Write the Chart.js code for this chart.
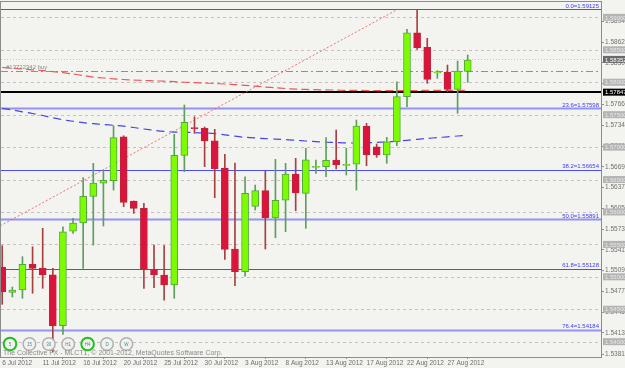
<!DOCTYPE html>
<html>
<head>
<meta charset="utf-8">
<script src="https://cdn.jsdelivr.net/npm/chart.js@4.4.1/dist/chart.umd.min.js"></script>
<style>
  html, body { margin: 0; padding: 0; background: #f3f3ef; }
  #wrap { width: 625px; height: 368px; }
</style>
</head>
<body>
<div id="wrap"><canvas id="chart" width="625" height="368"></canvas></div>
<script>
// GBPUSD-style daily bars, 6 Jul - 29 Aug 2012 (Sunday bars included)
const dates = ['6 Jul 2012', '8 Jul 2012', '9 Jul 2012', '10 Jul 2012', '11 Jul 2012', '12 Jul 2012', '13 Jul 2012', '15 Jul 2012',
  '16 Jul 2012', '17 Jul 2012', '18 Jul 2012', '19 Jul 2012', '20 Jul 2012', '22 Jul 2012', '23 Jul 2012', '24 Jul 2012',
  '25 Jul 2012', '26 Jul 2012', '27 Jul 2012', '29 Jul 2012', '30 Jul 2012', '31 Jul 2012', '1 Aug 2012', '2 Aug 2012',
  '3 Aug 2012', '5 Aug 2012', '6 Aug 2012', '7 Aug 2012', '8 Aug 2012', '9 Aug 2012', '10 Aug 2012', '12 Aug 2012',
  '13 Aug 2012', '14 Aug 2012', '15 Aug 2012', '16 Aug 2012', '17 Aug 2012', '19 Aug 2012', '20 Aug 2012', '21 Aug 2012',
  '22 Aug 2012', '23 Aug 2012', '24 Aug 2012', '26 Aug 2012', '27 Aug 2012', '28 Aug 2012', '29 Aug 2012'];

const opens = [1.55147, 1.54761, 1.54797, 1.55193, 1.55136, 1.55032, 1.54246, 1.55702, 1.55830, 1.56241, 1.56442, 1.56482,
  1.57160, 1.56169, 1.56056, 1.55116, 1.55028, 1.54874, 1.56873, 1.57290, 1.57290, 1.57098, 1.56673, 1.55429,
  1.55079, 1.56087, 1.56328, 1.55907, 1.56180, 1.56585, 1.56287, 1.56688, 1.56698, 1.56801, 1.56719, 1.56735,
  1.57325, 1.57006, 1.56878, 1.57083, 1.57777, 1.58763, 1.58538, 1.58142, 1.58153, 1.57891, 1.58168];
const highs = [1.55480, 1.54843, 1.55310, 1.55464, 1.55748, 1.55131, 1.55772, 1.55902, 1.56528, 1.56750, 1.56647, 1.57330,
  1.57175, 1.56169, 1.56133, 1.55490, 1.55480, 1.57197, 1.57649, 1.57468, 1.57310, 1.57274, 1.56889, 1.56755,
  1.56543, 1.56415, 1.56631, 1.56812, 1.56750, 1.56827, 1.56981, 1.56801, 1.57145, 1.57263, 1.56981, 1.57418,
  1.57367, 1.57048, 1.57151, 1.58008, 1.58816, 1.59125, 1.58677, 1.58178, 1.58265, 1.58327, 1.58420];
const lows = [1.54576, 1.54689, 1.54669, 1.54746, 1.54823, 1.53841, 1.54114, 1.55671, 1.55131, 1.55490, 1.55783, 1.56338,
  1.56081, 1.55979, 1.54823, 1.54832, 1.54642, 1.54669, 1.56620, 1.57212, 1.56698, 1.56220, 1.55270, 1.54863,
  1.55012, 1.56030, 1.55429, 1.55603, 1.55695, 1.56019, 1.55748, 1.56596, 1.56543, 1.56662, 1.56570, 1.56338,
  1.56713, 1.56842, 1.56750, 1.57021, 1.57622, 1.58507, 1.57983, 1.58060, 1.57854, 1.57521, 1.57999];
const closes = [1.54770, 1.54797, 1.55193, 1.55131, 1.55028, 1.54246, 1.55695, 1.55830, 1.56241, 1.56446, 1.56488, 1.57145,
  1.56149, 1.56056, 1.55116, 1.55028, 1.54874, 1.56873, 1.57382, 1.57285, 1.57094, 1.56667, 1.55424, 1.55079,
  1.56287, 1.56328, 1.55907, 1.56180, 1.56585, 1.56292, 1.56805, 1.56698, 1.56796, 1.56724, 1.56728, 1.57325,
  1.56878, 1.56878, 1.57083, 1.57777, 1.58763, 1.58532, 1.58045, 1.58162, 1.57891, 1.58173, 1.58340];

// moving averages (red = slow, blue = fast)
const maSlow = [1.58227, 1.58215, 1.58204, 1.58191, 1.58179, 1.58165, 1.58147, 1.58127, 1.58104, 1.58080, 1.58065, 1.58053,
  1.58042, 1.58034, 1.58028, 1.58022, 1.58016, 1.58008, 1.58000, 1.57994, 1.57988, 1.57980, 1.57973, 1.57963,
  1.57952, 1.57939, 1.57926, 1.57914, 1.57903, 1.57895, 1.57889, 1.57885, 1.57882, 1.57878, 1.57875, 1.57874,
  1.57872, 1.57871, 1.57871, 1.57871, 1.57871, 1.57872, 1.57874, 1.57874, 1.57875, 1.57875, 1.57877];
const maFast = [1.57598, 1.57572, 1.57544, 1.57518, 1.57487, 1.57451, 1.57421, 1.57399, 1.57377, 1.57362, 1.57348, 1.57336,
  1.57322, 1.57302, 1.57279, 1.57259, 1.57243, 1.57232, 1.57228, 1.57225, 1.57217, 1.57208, 1.57189, 1.57168,
  1.57151, 1.57141, 1.57131, 1.57123, 1.57117, 1.57106, 1.57094, 1.57084, 1.57075, 1.57069, 1.57064, 1.57063,
  1.57066, 1.57072, 1.57080, 1.57091, 1.57104, 1.57120, 1.57134, 1.57146, 1.57158, 1.57171, 1.57183];

const priceTicks = [1.53810, 1.54135, 1.54455, 1.54775, 1.55095, 1.55415, 1.55735, 1.56055, 1.56375, 1.56695,
  1.57015, 1.57340, 1.57660, 1.57980, 1.58300, 1.58620, 1.58940];
const roundLevels = [1.540, 1.545, 1.550, 1.555, 1.560, 1.565, 1.570, 1.575, 1.580, 1.585, 1.590];

const fibLevels = ['0.0', '23.6', '38.2', '50.0', '61.8', '76.4'];
const fibPrices = [1.59125, 1.57598, 1.56654, 1.55891, 1.55128, 1.54184];
const fibAnchorBars = [-37, 39.1];
const fibAnchorPrices = [1.52659, 1.59125];

const bidPrice = 1.58352;
const orderPrice = 1.58173;
const orderLabel = '#13722342 buy';
const linePrice = 1.57847;

const periods = ['5', '15', '30', 'H1', 'H4', 'D', 'W'];
const activePeriods = ['5', 'H4'];

const FONT = "'Liberation Sans', Arial, sans-serif";
const bull = closes.map((c, i) => c >= opens[i]);

const mt4Overlay = {
  id: 'mt4Overlay',
  beforeDraw(chart) {
    const ctx = chart.ctx;
    ctx.save();
    ctx.fillStyle = '#f3f3ef';
    ctx.fillRect(0, 0, chart.width, chart.height);
    ctx.restore();
  },
  beforeDatasetsDraw(chart) {
    const { ctx, chartArea: a, scales: { y } } = chart;
    ctx.save();
    ctx.beginPath();
    ctx.rect(a.left, a.top, a.right - a.left, a.bottom - a.top);
    ctx.clip();

    // round price levels
    ctx.setLineDash([3, 3]);
    ctx.strokeStyle = 'rgba(190,165,170,0.7)';
    ctx.lineWidth = 1;
    roundLevels.forEach(p => {
      const py = Math.round(y.getPixelForValue(p)) + 0.5;
      ctx.beginPath(); ctx.moveTo(a.left, py); ctx.lineTo(a.right, py); ctx.stroke();
    });

    // fibo levels
    ctx.setLineDash([]);
    fibPrices.forEach((p, i) => {
      const py = Math.round(y.getPixelForValue(p)) + 0.5;
      const thick = i === 1 || i === 3 || i === 5;
      ctx.strokeStyle = thick ? '#9494f4' : '#4a4aff';
      ctx.lineWidth = thick ? 2 : 1;
      ctx.beginPath(); ctx.moveTo(a.left, py); ctx.lineTo(a.right, py); ctx.stroke();
    });

    // bid (yellow dotted)
    let py = Math.round(y.getPixelForValue(bidPrice)) + 0.5;
    ctx.strokeStyle = '#d4d45a';
    ctx.lineWidth = 1;
    ctx.setLineDash([1, 2]);
    ctx.beginPath(); ctx.moveTo(a.left, py); ctx.lineTo(a.right, py); ctx.stroke();

    // open order (green dash-dot)
    py = Math.round(y.getPixelForValue(orderPrice)) + 0.5;
    ctx.strokeStyle = '#4cbf4c';
    ctx.setLineDash([7, 3, 2, 3]);
    ctx.beginPath(); ctx.moveTo(a.left, py); ctx.lineTo(a.right, py); ctx.stroke();

    // black horizontal line
    py = Math.round(y.getPixelForValue(linePrice));
    ctx.strokeStyle = '#000';
    ctx.lineWidth = 2;
    ctx.setLineDash([]);
    ctx.beginPath(); ctx.moveTo(a.left, py); ctx.lineTo(a.right, py); ctx.stroke();
    ctx.restore();
  },
  afterDraw(chart) {
    const { ctx, chartArea: a, scales: { y } } = chart;
    ctx.save();

    // fibo labels
    ctx.font = '6px ' + FONT;
    ctx.fillStyle = '#3c3cff';
    ctx.textAlign = 'right';
    ctx.textBaseline = 'alphabetic';
    fibPrices.forEach((p, i) => {
      const py = y.getPixelForValue(p);
      ctx.fillText(fibLevels[i] + '=' + p.toFixed(5), a.right - 2, py - 1.5);
    });

    // order label
    ctx.fillStyle = '#8a8a8a';
    ctx.textAlign = 'left';
    ctx.fillText(orderLabel, a.left + 5, y.getPixelForValue(orderPrice) - 2);

    // price boxes on the axis
    const box = (p, bg, fg) => {
      const py = y.getPixelForValue(p);
      ctx.fillStyle = bg;
      ctx.fillRect(a.right + 2, py - 3.5, chart.width - a.right - 2, 7);
      ctx.fillStyle = fg;
      ctx.textBaseline = 'middle';
      ctx.fillText(p.toFixed(5), a.right + 4, py + 0.5);
    };
    roundLevels.forEach(p => box(p, '#b4b4b4', '#e8e8e8'));
    box(bidPrice, '#6a6a6a', '#ffffff');
    box(linePrice, '#000000', '#ffffff');

    // frame
    ctx.strokeStyle = '#8c8c8c';
    ctx.lineWidth = 1;
    ctx.strokeRect(a.left - 0.5, a.top - 0.5, a.right - a.left + 1, a.bottom - a.top + 1);

    // period buttons
    periods.forEach((p, i) => {
      const cx = 10 + i * 19.4, cy = 344;
      const on = activePeriods.includes(p);
      ctx.beginPath();
      ctx.arc(cx, cy, 6.3, 0, Math.PI * 2);
      ctx.fillStyle = '#f1f1ed';
      ctx.fill();
      ctx.lineWidth = on ? 2 : 1.5;
      ctx.strokeStyle = on ? '#22c022' : '#b0b0b0';
      ctx.stroke();
      ctx.fillStyle = '#4a8a9a';
      ctx.font = '4.5px ' + FONT;
      ctx.textAlign = 'center';
      ctx.textBaseline = 'middle';
      ctx.fillText(p, cx, cy + 0.5);
    });

    ctx.font = '7px ' + FONT;
    ctx.fillStyle = '#8a8a8a';
    ctx.textAlign = 'left';
    ctx.textBaseline = 'alphabetic';
    ctx.fillText('The Collective FX - MLCT1, \u00a9 2001-2012, MetaQuotes Software Corp.', 3, 355);
    ctx.restore();
  }
};

new Chart(document.getElementById('chart'), {
  type: 'bar',
  data: {
    datasets: [
      {
        label: 'body',
        data: opens.map((o, i) => ({ x: i, y: [o, closes[i]] })),
        backgroundColor: bull.map(b => b ? '#7cfc00' : '#dc143c'),
        borderColor: bull.map(b => b ? '#54a83a' : '#b8283c'),
        borderWidth: 1,
        borderSkipped: false,
        barThickness: 7,
        minBarLength: 1,
        grouped: false,
        order: 0
      },
      {
        label: 'wick',
        data: lows.map((l, i) => ({ x: i, y: [l, highs[i]] })),
        backgroundColor: bull.map(b => b ? '#5e9e5e' : '#a84040'),
        borderWidth: 0,
        barThickness: 1,
        grouped: false,
        order: 1
      },
      {
        type: 'line',
        label: 'MA slow',
        data: maSlow.map((v, i) => ({ x: i, y: v })),
        borderColor: '#ea5a5a',
        borderWidth: 1.2,
        borderDash: [8, 4],
        pointRadius: 0,
        tension: 0.3,
        order: 2
      },
      {
        type: 'line',
        label: 'MA fast',
        data: maFast.map((v, i) => ({ x: i, y: v })),
        borderColor: '#4646e6',
        borderWidth: 1.2,
        borderDash: [8, 5],
        pointRadius: 0,
        tension: 0.3,
        order: 3
      },
      {
        type: 'line',
        label: 'fibo',
        data: fibAnchorBars.map((b, i) => ({ x: b, y: fibAnchorPrices[i] })),
        borderColor: 'rgba(240,90,90,0.85)',
        borderWidth: 1,
        borderDash: [2, 2],
        pointRadius: 0,
        order: 4
      }
    ]
  },
  options: {
    responsive: false,
    animation: false,
    events: [],
    layout: { padding: { left: 1, top: 2, right: 0, bottom: 0 } },
    plugins: { legend: { display: false }, tooltip: { enabled: false } },
    scales: {
      x: {
        type: 'linear',
        min: -0.12,
        max: 59.17,
        offset: false,
        afterBuildTicks: s => { s.ticks = dates.map((d, i) => i).filter(i => i % 4 === 0).map(v => ({ value: v })); },
        afterFit: s => { s.height = 11; s.paddingLeft = 0; s.paddingRight = 0; },
        ticks: {
          autoSkip: false, maxRotation: 0, align: 'start', padding: 0,
          color: '#6e6e6e', font: { family: FONT, size: 6.5 },
          callback: v => dates[v]
        },
        grid: { drawOnChartArea: false, tickLength: 2, color: '#8c8c8c' },
        border: { color: '#8c8c8c' }
      },
      y: {
        position: 'right',
        min: 1.53764,
        max: 1.59237,
        afterBuildTicks: s => { s.ticks = priceTicks.map(v => ({ value: v })); },
        afterFit: s => { s.width = 24; s.paddingTop = 0; s.paddingBottom = 0; },
        ticks: {
          autoSkip: false, padding: 1,
          color: '#707070', font: { family: FONT, size: 6.5 },
          callback: v => v.toFixed(5)
        },
        grid: { drawOnChartArea: false, tickLength: 3, color: '#8c8c8c' },
        border: { color: '#8c8c8c' }
      }
    }
  },
  plugins: [mt4Overlay]
});
</script>
</body>
</html>
